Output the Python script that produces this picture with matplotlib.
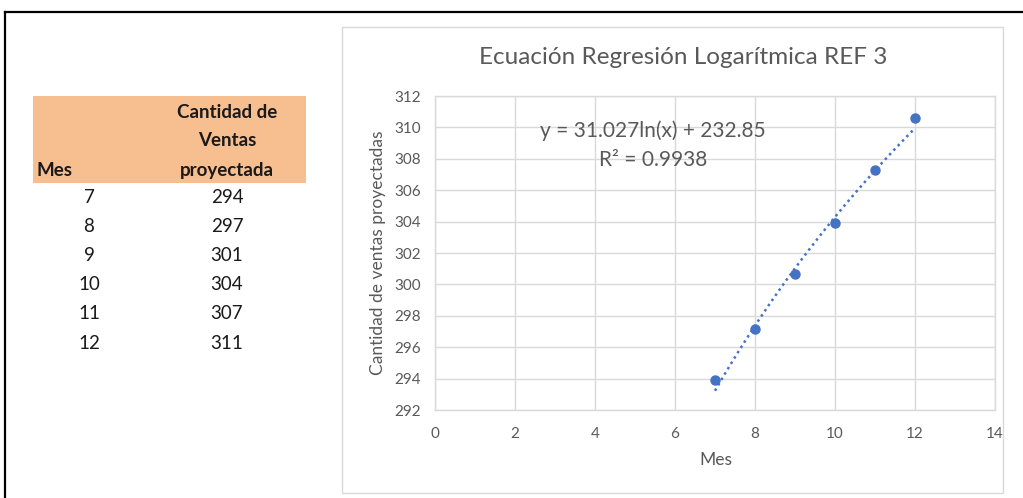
import numpy as np
import matplotlib.pyplot as plt
from matplotlib.patches import Rectangle
from matplotlib.lines import Line2D

plt.rcParams['font.family'] = ['Lato', 'DejaVu Sans']

# Monthly projected sales
mes = [7, 8, 9, 10, 11, 12]
ventas = [293.9, 297.16, 300.66, 303.89, 307.29, 310.62]

# Logarithmic trendline coefficients and fit quality
coef_a = 31.027
coef_b = 232.85
r2 = 0.9938

x_ticks = [0, 2, 4, 6, 8, 10, 12, 14]
y_ticks = [292, 294, 296, 298, 300, 302, 304, 306, 308, 310, 312]

W, H = 1023, 498
fig = plt.figure(figsize=(W / 100, H / 100), dpi=100)
fig.patch.set_facecolor('white')


def fx(px):
    return px / W


def fy(py):
    return 1 - py / H


# Sheet frame
fig.add_artist(Line2D([fx(4.5), fx(4.5)], [fy(498), fy(12)], color='black', lw=1.6))
fig.add_artist(Line2D([fx(4.5), fx(1023)], [fy(12), fy(12)], color='black', lw=1.6))

# Data table
header_col = '#F7BE8F'
fig.add_artist(Rectangle((fx(33), fy(183)), fx(306 - 33), fy(96) - fy(183),
                         facecolor=header_col, edgecolor='none'))
hdr = dict(fontsize=13.5, fontweight='bold', color='#1a1a1a', va='center')
fig.text(fx(36), fy(170), 'Mes', ha='left', **hdr)
for text, py in zip(['Cantidad de', 'Ventas', 'proyectada'], [113, 141, 170]):
    fig.text(fx(227), fy(py), text, ha='center', **hdr)
row_y = [197, 226, 255, 284, 313, 343]
for m, v, py in zip(mes, ventas, row_y):
    fig.text(fx(89), fy(py), f'{m}', ha='center', va='center', fontsize=13.5, color='#1a1a1a')
    fig.text(fx(227), fy(py), f'{round(v)}', ha='center', va='center', fontsize=13.5, color='#1a1a1a')

# Chart frame
fig.add_artist(Rectangle((fx(342), fy(493)), fx(1003 - 342), fy(27) - fy(493),
                         facecolor='none', edgecolor='#D9D9D9', lw=1.0))

ax = fig.add_axes([fx(435), fy(410), fx(995 - 435), fy(96) - fy(410)])
ax.set_xlim(0, 14)
ax.set_ylim(292, 312)
ax.set_xticks(x_ticks)
ax.set_yticks(y_ticks)
ax.grid(True, color='#D9D9D9', lw=1.0)
ax.set_axisbelow(True)
for s in ax.spines.values():
    s.set_color('#D9D9D9')
    s.set_linewidth(1.0)
ax.tick_params(length=0, labelsize=11, labelcolor='#595959')
ax.tick_params(axis='y', pad=10)
ax.tick_params(axis='x', pad=12)

xs = np.linspace(min(mes), max(mes), 100)
ax.plot(xs, coef_a * np.log(xs) + coef_b, linestyle=(0, (1, 1.5)), color='#4472C4', lw=1.8)
ax.plot(mes, ventas, 'o', color='#4472C4', ms=6.5)

ax.text(fx(653), fy(131), f'y = {coef_a}ln(x) + {coef_b}', transform=fig.transFigure,
        ha='center', va='center', fontsize=15, color='#595959')
ax.text(fx(653), fy(160), f'R² = {r2}', transform=fig.transFigure,
        ha='center', va='center', fontsize=15, color='#595959')

fig.text(fx(683), fy(58), 'Ecuación Regresión Logarítmica REF 3', ha='center', va='center',
         fontsize=17.5, color='#595959')
fig.text(fx(716), fy(460), 'Mes', ha='center', va='center', fontsize=12.5, color='#595959')
fig.text(fx(378), fy(253), 'Cantidad de ventas proyectadas', ha='center', va='center',
         rotation=90, fontsize=12.5, color='#595959')

fig.savefig('out.png', dpi=100)
